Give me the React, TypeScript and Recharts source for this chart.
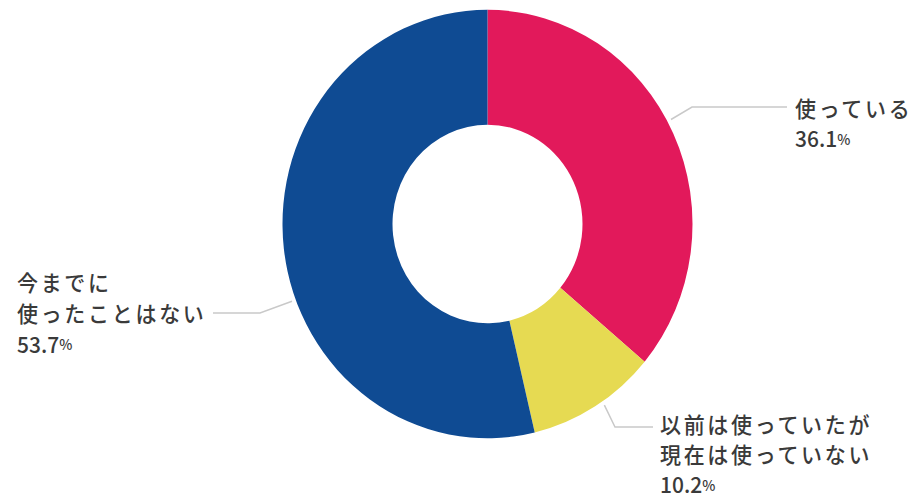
import React from "react";
import { PieChart, Pie, Cell } from "recharts";

// Survey answers, in clockwise order from 12 o'clock
const categories = ["使っている", "以前は使っていたが現在は使っていない", "今までに使ったことはない"];
const shares = [36.1, 10.2, 53.7];
const labelLines = [["使っている"], ["以前は使っていたが", "現在は使っていない"], ["今までに", "使ったことはない"]];
const colors = ["#E2195B", "#E6DA52", "#0F4B93"];

const data = categories.map((name, i) => ({ name, value: shares[i] }));

// Leader-line geometry per slice: angle on the rim, elbow point, end of the horizontal run, text block origin
const labelLayout = [
  { rimAngle: 28.6, elbow: [692, 102.4], endX: 787, textX: 795, textY: 102.4, gap: 29.4, anchor: "start" },
  { rimAngle: -56, elbow: [615, 408.6], endX: 653, textX: 660, textY: 405.2, gap: 28.8, anchor: "start" },
  { rimAngle: -159.3, elbow: [260, 299.5], endX: 213, textX: 17, textY: 269.5, gap: 29.4, anchor: "start" },
];

const TEXT_COLOR = "#3a3a3a";
const FONT = "'Noto Sans CJK JP', 'Noto Sans', sans-serif";

const RAD = Math.PI / 180;

const renderLabel = (props: any) => {
  const { cx, cy, outerRadius, index, value } = props;
  const lay = labelLayout[index];
  const r = outerRadius + 4;
  const sx = cx + r * Math.cos(lay.rimAngle * RAD);
  const sy = cy - r * Math.sin(lay.rimAngle * RAD);
  const [ex, ey] = lay.elbow;
  const lines = labelLines[index];
  return (
    <g key={`lbl-${index}`}>
      <polyline
        points={`${sx},${sy} ${ex},${ey} ${lay.endX},${ey}`}
        fill="none"
        stroke="#c9c9c9"
        strokeWidth={1.5}
      />
      {lines.map((t, k) => (
        <text
          key={k}
          x={lay.textX}
          y={lay.textY + k * lay.gap}
          fill={TEXT_COLOR}
          fontSize={21}
          fontWeight={500}
          letterSpacing={2.7}
          fontFamily={FONT}
          dominantBaseline="central"
          textAnchor={lay.anchor}
        >
          {t}
        </text>
      ))}
      <text
        x={lay.textX}
        y={lay.textY + lines.length * lay.gap}
        fill={TEXT_COLOR}
        fontSize={21}
        fontWeight={500}
        fontFamily={FONT}
        dominantBaseline="central"
        textAnchor={lay.anchor}
      >
        {value.toFixed(1)}
        <tspan fontSize={14}>%</tspan>
      </text>
    </g>
  );
};

export default function App() {
  return (
    <div
      style={{
        position: "absolute",
        left: 0,
        top: 0,
        width: 917,
        height: 477,
        background: "#ffffff",
        transform: "scaleY(1.045)",
        transformOrigin: "0 0",
      }}
    >
      <PieChart width={917} height={477} margin={{ top: 0, right: 0, bottom: 0, left: 0 }}>
        <Pie
          data={data}
          dataKey="value"
          nameKey="name"
          cx={487.5}
          cy={214.4}
          innerRadius={95}
          outerRadius={205}
          startAngle={90}
          endAngle={-270}
          stroke="none"
          label={renderLabel}
          labelLine={false}
          isAnimationActive={false}
        >
          {data.map((d, i) => (
            <Cell key={d.name} fill={colors[i]} />
          ))}
        </Pie>
      </PieChart>
    </div>
  );
}
